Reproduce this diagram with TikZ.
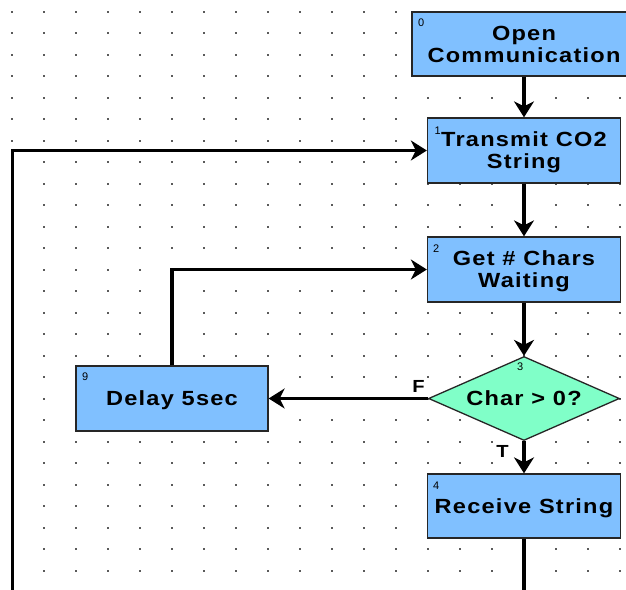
\documentclass[tikz,border=0pt]{standalone}
\usepackage{fontspec}
\setmainfont{Liberation Sans}
\newfontfamily\boxfont{Liberation Sans}[FakeStretch=1.15,LetterSpace=6]
\usetikzlibrary{shapes.geometric,arrows.meta}
\definecolor{boxblue}{RGB}{128,192,255}
\definecolor{decgreen}{RGB}{128,255,200}
\definecolor{dotgray}{RGB}{90,90,90}

\tikzset{
  blk/.style={rectangle, draw=black!85, line width=1.3pt, fill=boxblue,
    minimum width=193pt, minimum height=65pt, inner sep=0pt, align=center,
    text depth=0pt,
    font=\boxfont\bfseries\fontsize{20.5}{22}\selectfont},
  dec/.style={diamond, draw=black!85, line width=1.3pt, fill=decgreen,
    aspect=2.27, minimum width=191pt, minimum height=84pt, inner sep=0pt,
    font=\boxfont\bfseries\fontsize{20.5}{22}\selectfont},
  num/.style={inner sep=0pt, anchor=north west, font=\fontsize{11}{12}\selectfont},
  tf/.style={inner sep=0pt, font=\boxfont\bfseries\fontsize{17.5}{20}\selectfont},
  conn/.style={line width=3.2pt, draw=black},
  arr/.style={conn, -{Stealth[length=16pt, width=20pt, inset=5pt]}},
}

\begin{document}
\begin{tikzpicture}[x=1pt, y=-1pt]
  \useasboundingbox (0,0) rectangle (626,589);
  \fill[white] (0,0) rectangle (626,589);
  \clip (0,0) rectangle (626,589);

  % dotted drawing grid
  \foreach \i in {0,...,19} {
    \foreach \j in {0,...,27} {
      \fill[dotgray] (11.7+32*\i-0.9, 11.7+21.5*\j-0.9) rectangle ++(1.8,1.8);
    }
  }

  % flowchart blocks
  \node[blk, minimum width=224pt, minimum height=64pt] (b0) at (524,44) {Open\\Communication};
  \node[blk] (b1) at (524,150.5) {Transmit CO2\\String};
  \node[blk] (b2) at (524,269.5) {Get \# Chars\\Waiting};
  \node[dec] (d3) at (524,398.5) {Char > 0?};
  \node[blk, minimum height=64pt] (b4) at (524,506) {Receive String};
  \node[blk, minimum width=192pt] (d9) at (172,398.5) {Delay 5sec};

  % block numbers
  \node[num] (n0) at (418,18.5) {0};
  \node[num] (n1) at (434.5,127) {1};
  \node[num] (n2) at (433,244.5) {2};
  \node[num] (n3) at (517,362.5) {3};
  \node[num] (n9) at (82,372.5) {9};
  \node[num] (n4) at (433,481.5) {4};

  % branch labels
  \node[tf] (lf) at (418.5,386) {F};
  \node[tf] (lt) at (502.5,451) {T};

  % loose ends leaving the sheet
  \coordinate (loopin) at (12.5,600);
  \coordinate (out4) at (524,600);

  % connectors
  \draw[arr] (b0) -- (b1);
  \draw[arr] (b1) -- (b2);
  \draw[arr] (b2) -- (d3);
  \draw[arr] (d3) -- (b4);
  \draw[arr] (d3.west) -- (d9.east);
  \draw[arr] (d9.north) |- (b2.west);
  \draw[arr] (loopin) |- (b1.west);
  \draw[conn] (b4.south) -- (out4);
\end{tikzpicture}
\end{document}
